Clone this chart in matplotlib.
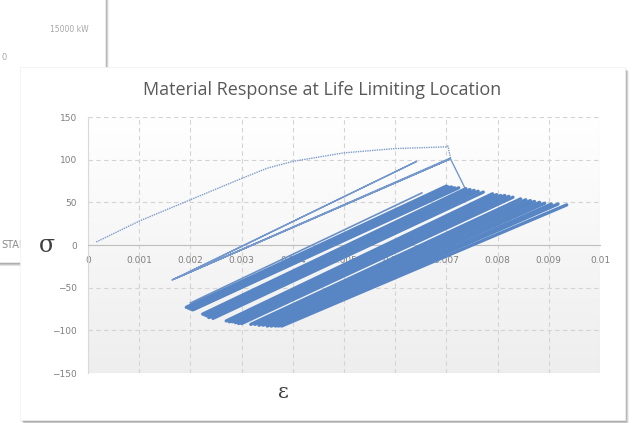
import numpy as np
import matplotlib.pyplot as plt
from matplotlib.colors import LinearSegmentedColormap
from matplotlib.patches import Rectangle

# first loading curve (strain, stress)
load_e = [0.00016, 0.0010, 0.0020, 0.0030, 0.0035, 0.0040, 0.0045, 0.0050, 0.0060, 0.0070, 0.00703, 0.00708]
load_s = [3.5, 28, 53, 78, 90, 98, 103, 108, 113, 115, 116, 102]

# early cycles (turning points, in order)
early_e = [0.00708, 0.00164, 0.00704, 0.00168, 0.00642, 0.00172, 0.00708, 0.00736]
early_s = [102, -41, 100, -40, 98, -39, 101, 67]

# single partial cycle
part_e = [0.00200, 0.00652]
part_s = [-68, 61]

# later cycles: min and max turning points of each cycle
cyc_min_e = [0.00192, 0.00196, 0.00200, 0.00204, 0.00208,
             0.00224, 0.00228, 0.00232, 0.00236, 0.00244,
             0.00270, 0.00276, 0.00282, 0.00288, 0.00294, 0.00300,
             0.00318, 0.00326, 0.00334, 0.00342, 0.00350, 0.00358, 0.00366, 0.00372, 0.00378]
cyc_min_s = [-73, -74, -75, -76, -75,
             -81, -82, -83, -85, -86,
             -89, -90, -90, -91, -92, -92,
             -93, -93, -94, -94, -95, -95, -95, -95, -95]
cyc_max_e = [0.00700, 0.00704, 0.00710, 0.00716, 0.00724,
             0.00738, 0.00746, 0.00754, 0.00762, 0.00772,
             0.00790, 0.00798, 0.00806, 0.00814, 0.00822, 0.00830,
             0.00845, 0.00855, 0.00864, 0.00872, 0.00882, 0.00892, 0.00905, 0.00918, 0.00935]
cyc_max_s = [69, 68, 68, 67, 67,
             66, 65, 64, 63, 62,
             60, 59, 58, 58, 57, 56,
             54, 53, 52, 51, 50, 49, 48, 48, 47]

x_ticks = [0, 0.001, 0.002, 0.003, 0.004, 0.005, 0.006, 0.007, 0.008, 0.009, 0.01]
x_labels = ['0', '0.001', '0.002', '0.003', '0.004', '0.005', '0.006', '0.007', '0.008', '0.009', '0.01']
y_ticks = [-150, -100, -50, 0, 50, 100, 150]

W, H = 635, 423
fig = plt.figure(figsize=(W / 100, H / 100), dpi=100)
fig.patch.set_facecolor('white')

# background layer in pixel coordinates (screenshot panels + shadows)
bg = fig.add_axes([0, 0, 1, 1])
bg.set_xlim(0, W)
bg.set_ylim(H, 0)
bg.axis('off')


def panel(x0, y0, x1, y1, z):
    for i in range(6):
        bg.add_patch(Rectangle((x0 + 1 + i * 0.5, y0 + 2 + i * 0.5), x1 - x0, y1 - y0,
                               facecolor='#000000', alpha=0.06, edgecolor='none', zorder=z))
    bg.add_patch(Rectangle((x0, y0), x1 - x0, y1 - y0, facecolor='white',
                           edgecolor='#f0f0f0', lw=0.5, zorder=z + 0.5))


panel(-10, -10, 105, 262, 1)
bg.text(50, 29, '15000 kW', fontsize=5.5, color='#a6a6a6', ha='left', va='center', zorder=2)
bg.text(1, 245, 'STAR', fontsize=7, color='#8c8c8c', ha='left', va='center', zorder=2)
bg.text(1, 57, '0', fontsize=6, color='#a6a6a6', ha='left', va='center', zorder=2)
panel(20, 67, 625, 420, 3)

bg.text(322, 90, 'Material Response at Life Limiting Location', fontsize=13,
        family='Open Sans', color='#595959', ha='center', va='center', zorder=5)
bg.text(47, 246, 'σ', fontsize=17, family='DejaVu Serif', color='#404040',
        ha='center', va='center', zorder=5)
bg.text(283, 393, 'ε', fontsize=15, family='DejaVu Serif', color='#404040',
        ha='center', va='center', zorder=5)

# main chart
ax = fig.add_axes([88 / W, 1 - 373 / H, 512 / W, 256 / H])
ax.set_zorder(5)
ax.patch.set_alpha(0)
ax.set_xlim(0, 0.01)
ax.set_ylim(-150, 150)

grad = np.linspace(1, 0, 256).reshape(-1, 1)
cmap = LinearSegmentedColormap.from_list('g', ['#eeeeee', '#ffffff'])
ax.imshow(grad, extent=[0, 0.01, -150, 150], aspect='auto', cmap=cmap, zorder=0, origin='upper')

ax.set_xticks(x_ticks)
ax.set_xticklabels(x_labels)
ax.set_yticks(y_ticks)
ax.grid(True, color='#d4d4d4', linestyle=(0, (4, 3)), linewidth=0.8, zorder=1)
ax.set_axisbelow(True)
for s in ['top', 'right']:
    ax.spines[s].set_visible(False)
ax.spines['bottom'].set_position(('data', 0))
ax.spines['bottom'].set_color('#bfbfbf')
ax.spines['left'].set_color('#d9d9d9')
ax.tick_params(length=0, labelsize=6.5, labelcolor='#7f7f7f')
ax.tick_params(axis='x', pad=8)
ax.tick_params(axis='y', pad=8)

# curves
ax.plot(load_e, load_s, color='#7d9ccc', lw=1.0, linestyle=(0, (1, 0.7)), zorder=3)
ax.plot(early_e, early_s, color='#7598cc', lw=1.0, zorder=3)
ax.plot(part_e, part_s, color='#6a90c8', lw=1.2, zorder=3)

for a, b, c, d in zip(cyc_min_e, cyc_min_s, cyc_max_e, cyc_max_s):
    ax.plot([a, c], [b, d], color='#5886c4', lw=2.4, zorder=4, solid_capstyle='round')

fig.savefig('out.png', dpi=100)
